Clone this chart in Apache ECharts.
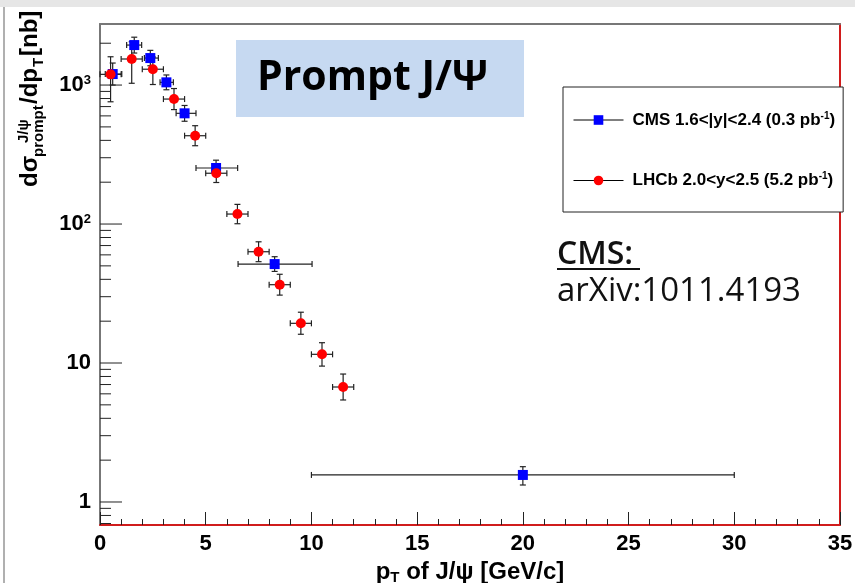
<!DOCTYPE html>
<html>
<head>
<meta charset="utf-8">
<title>Prompt J/psi cross-section</title>
<script src="https://cdn.jsdelivr.net/npm/echarts@6/dist/echarts.min.js"></script>
<style>
  html, body { margin: 0; padding: 0; background: #fff; }
  #chart { width: 855px; height: 583px; }
</style>
</head>
<body>
<div id="chart"></div>
<script>
// values (pT in GeV/c, cross-section in nb)
const cmsName = "CMS 1.6<|y|<2.4 (0.3 pb-1)";
const cmsPt = [0.6, 1.62, 2.38, 3.14, 4.0, 5.49, 8.26, 20.0];
const cmsPtLo = [0.25, 1.26, 2.1, 2.84, 3.6, 4.54, 6.53, 10.0];
const cmsPtHi = [1.03, 1.97, 2.76, 3.47, 4.54, 6.51, 10.03, 30.0];
const cmsVal = [1200, 1940, 1564, 1046, 626, 253, 51.5, 1.565];
const cmsLo = [1000, 1700, 1377, 925, 549, 222, 45.6, 1.325];
const cmsHi = [1440, 2210, 1777, 1182, 713, 288, 58.2, 1.795];

const lhcbName = "LHCb 2.0<y<2.5 (5.2 pb-1)";
const lhcbPt = [0.5, 1.5, 2.5, 3.5, 4.5, 5.5, 6.5, 7.5, 8.5, 9.5, 10.5, 11.5];
const lhcbPtLo = [0, 1, 2, 3, 4, 5, 6, 7, 8, 9, 10, 11];
const lhcbPtHi = [1, 2, 3, 4, 5, 6, 7, 8, 9, 10, 11, 12];
const lhcbVal = [1194, 1540, 1300, 793, 432, 232, 118, 63.2, 36.6, 19.3, 11.55, 6.72];
const lhcbLo = [758, 1030, 1009, 666, 366, 199, 100.5, 53.6, 30.8, 16.1, 9.5, 5.42];
const lhcbHi = [1598, 2050, 1591, 944, 510, 269, 138.5, 74.5, 43.5, 23.2, 14.0, 8.33];

// axes
const xMin = 0, xMax = 35, xStep = 5;
const yMin = 0.683, yMax = 2750;
const yMajorTicks = [1, 10, 100, 1000];
const yTickLabels = ["{b|1}", "{b|10}", "{b|10}{s|2}", "{b|10}{s|3}"];

const legendLabels = {
  [cmsName]: "{f|CMS 1.6<|y|<2.4 (0.3 pb}{s|-1}{t|)}",
  [lhcbName]: "{f|LHCb 2.0<y<2.5 (5.2 pb}{s|-1}{t|)}",
};

// minor ticks of the log axis: 2..9 in every decade
const yMinorTicks = [];
for (let d = 0.1; d < yMax; d *= 10) {
  for (let k = 2; k <= 9; k++) {
    const v = Math.round(d * k * 1000) / 1000;
    if (v > yMin && v < yMax) yMinorTicks.push(v);
  }
}

const FONT = '"Liberation Sans", Arial, sans-serif';
const TICK = "#222";
const FRAME_GREY = "#777";
const FRAME_RED = "#d01c1c";

const chart = echarts.init(document.getElementById("chart"), null, { renderer: "canvas" });

const toBars = (pt, lo, hi, val, vlo, vhi) =>
  pt.map((x, i) => [x, val[i], lo[i], hi[i], vlo[i], vhi[i]]);

function renderErrorBar(params, api) {
  const x = api.value(0);
  const y = api.value(1);
  const left = api.coord([api.value(2), y]);
  const right = api.coord([api.value(3), y]);
  const bottom = api.coord([x, api.value(4)]);
  const top = api.coord([x, api.value(5)]);
  const cap = 3;
  const style = { stroke: TICK, lineWidth: 1.2 };
  const seg = (x1, y1, x2, y2) => ({ type: "line", shape: { x1, y1, x2, y2 }, style });
  return {
    type: "group",
    children: [
      seg(left[0], left[1], right[0], right[1]),
      seg(left[0], left[1] - cap, left[0], left[1] + cap),
      seg(right[0], right[1] - cap, right[0], right[1] + cap),
      seg(top[0], top[1], bottom[0], bottom[1]),
      seg(top[0] - cap, top[1], top[0] + cap, top[1]),
      seg(bottom[0] - cap, bottom[1], bottom[0] + cap, bottom[1]),
    ],
  };
}

// ROOT style ticks on the left log axis, pointing inside
const yTickRenderer = (len) => (params, api) => {
  const p = api.coord([xMin, api.value(1)]);
  return {
    type: "line",
    shape: { x1: p[0], y1: p[1], x2: p[0] + len, y2: p[1] },
    style: { stroke: TICK, lineWidth: 1 },
  };
};

const option = {
  backgroundColor: "#fff",
  animation: false,
  grid: { left: 100, top: 24, right: 15, bottom: 58, outerBoundsMode: "none" },
  xAxis: [
    {
      type: "value",
      min: xMin,
      max: xMax,
      interval: xStep,
      position: "bottom",
      axisLine: { show: true, onZero: false, lineStyle: { color: FRAME_RED, width: 2 } },
      axisTick: { show: true, inside: true, length: 13, lineStyle: { color: TICK, width: 1 } },
      minorTick: { show: true, splitNumber: 5, length: 6, lineStyle: { color: TICK, width: 1 } },
      splitLine: { show: false },
      axisLabel: { color: "#000", fontFamily: FONT, fontSize: 22, fontWeight: "bold", margin: 8 },
      name: "{b|p}{sub|T}{b| of J/ψ [GeV/c]}",
      nameLocation: "middle",
      nameGap: 27,
      nameTextStyle: {
        rich: {
          b: { fontFamily: FONT, fontSize: 24, fontWeight: "bold", color: "#000" },
          sub: { fontFamily: FONT, fontSize: 15, fontWeight: "bold", color: "#000", padding: [12, 0, 0, 0] },
        },
      },
    },
    {
      type: "value",
      min: xMin,
      max: xMax,
      position: "top",
      axisLine: { show: true, onZero: false, lineStyle: { color: FRAME_GREY, width: 2 } },
      axisTick: { show: false },
      axisLabel: { show: false },
      splitLine: { show: false },
    },
  ],
  yAxis: [
    {
      type: "log",
      logBase: 10,
      min: yMin,
      max: yMax,
      position: "left",
      axisLine: { show: true, onZero: false, lineStyle: { color: FRAME_GREY, width: 2 } },
      axisTick: { show: false },
      splitLine: { show: false },
      axisLabel: {
        margin: 9,
        formatter: (v) => {
          const lg = Math.log10(v);
          const n = Math.round(lg);
          if (Math.abs(lg - n) > 1e-6) return "";
          const i = yMajorTicks.indexOf(Math.pow(10, n));
          return i < 0 ? "" : yTickLabels[i];
        },
        rich: {
          b: { fontFamily: FONT, fontSize: 22, fontWeight: "bold", color: "#000" },
          s: { fontFamily: FONT, fontSize: 13, fontWeight: "bold", color: "#000", padding: [0, 0, 9, 0] },
        },
      },
    },
    {
      type: "log",
      logBase: 10,
      min: yMin,
      max: yMax,
      position: "right",
      axisLine: { show: true, onZero: false, lineStyle: { color: FRAME_RED, width: 2 } },
      axisTick: { show: false },
      axisLabel: { show: false },
      splitLine: { show: false },
    },
  ],
  legend: {
    orient: "vertical",
    left: 563,
    top: 87,
    padding: [24, 8, 23, 10],
    itemGap: 43,
    itemWidth: 50,
    itemHeight: 12,
    backgroundColor: "#fff",
    borderColor: "#222",
    borderWidth: 1,
    selectedMode: false,
    lineStyle: { color: "#000", width: 1, opacity: 1 },
    data: [cmsName, lhcbName],
    formatter: (name) => legendLabels[name],
    textStyle: {
      rich: {
        f: { fontFamily: FONT, fontSize: 17, fontWeight: "bold", color: "#000", padding: [0, 0, 0, 4] },
        t: { fontFamily: FONT, fontSize: 17, fontWeight: "bold", color: "#000" },
        s: { fontFamily: FONT, fontSize: 10, fontWeight: "bold", color: "#000", padding: [0, 0, 8, 0] },
      },
    },
  },
  series: [
    {
      type: "custom",
      name: "yMajor",
      silent: true,
      renderItem: yTickRenderer(22),
      data: yMajorTicks.map((v) => [xMin, v]),
      z: 1,
    },
    {
      type: "custom",
      name: "yMinor",
      silent: true,
      renderItem: yTickRenderer(11),
      data: yMinorTicks.map((v) => [xMin, v]),
      z: 1,
    },
    {
      type: "custom",
      name: "cmsErr",
      silent: true,
      renderItem: renderErrorBar,
      encode: { x: 0, y: 1 },
      data: toBars(cmsPt, cmsPtLo, cmsPtHi, cmsVal, cmsLo, cmsHi),
      z: 2,
    },
    {
      type: "custom",
      name: "lhcbErr",
      silent: true,
      renderItem: renderErrorBar,
      encode: { x: 0, y: 1 },
      data: toBars(lhcbPt, lhcbPtLo, lhcbPtHi, lhcbVal, lhcbLo, lhcbHi),
      z: 2,
    },
    {
      name: cmsName,
      type: "line",
      silent: true,
      data: cmsPt.map((x, i) => [x, cmsVal[i]]),
      symbol: "rect",
      symbolSize: 10,
      showAllSymbol: true,
      itemStyle: { color: "#0000ff" },
      lineStyle: { opacity: 0 },
      z: 4,
    },
    {
      name: lhcbName,
      type: "line",
      silent: true,
      data: lhcbPt.map((x, i) => [x, lhcbVal[i]]),
      symbol: "circle",
      symbolSize: 10,
      showAllSymbol: true,
      itemStyle: { color: "#ff0000" },
      lineStyle: { opacity: 0 },
      z: 5,
    },
  ],
  graphic: [
    // slide chrome: grey strip on top and thin edge on the left
    { type: "rect", shape: { x: 0, y: 0, width: 855, height: 7 }, style: { fill: "#e6e6e6" }, silent: true },
    { type: "line", shape: { x1: 4, y1: 7, x2: 4, y2: 583 }, style: { stroke: "#b0b0b0", lineWidth: 2 }, silent: true },
    // "Prompt J/Ψ" box
    { type: "rect", shape: { x: 236, y: 40, width: 288, height: 77 }, style: { fill: "#c6d9f1" }, silent: true },
    {
      type: "text",
      x: 257,
      y: 78,
      style: { text: "Prompt J/Ψ", font: 'bold 41px "Open Sans", sans-serif', fill: "#000", verticalAlign: "middle" },
      silent: true,
    },
    // reference note
    {
      type: "text",
      x: 557,
      y: 255,
      style: { text: "CMS:", font: '600 32px "Open Sans", sans-serif', fill: "#111", verticalAlign: "middle" },
      silent: true,
    },
    { type: "line", shape: { x1: 557, y1: 269, x2: 640, y2: 269 }, style: { stroke: "#111", lineWidth: 2 }, silent: true },
    {
      type: "text",
      x: 557,
      y: 292,
      style: { text: "arXiv:1011.4193", font: '33px "Open Sans", sans-serif', fill: "#111", verticalAlign: "middle" },
      silent: true,
    },
    // y-axis title, reading bottom to top
    {
      type: "group",
      x: 38,
      y: 187,
      rotation: Math.PI / 2,
      silent: true,
      children: [
        { type: "text", x: 0, y: -8, style: { text: "dσ", font: "bold 24px " + FONT, fill: "#000", verticalAlign: "middle" } },
        { type: "text", x: 44, y: -14, style: { text: "J/ψ", font: "bold 15px " + FONT, fill: "#000", verticalAlign: "middle" } },
        { type: "text", x: 30, y: 1, style: { text: "prompt", font: "bold 15px " + FONT, fill: "#000", verticalAlign: "middle" } },
        { type: "text", x: 83, y: -8, style: { text: "/dp", font: "bold 24px " + FONT, fill: "#000", verticalAlign: "middle" } },
        { type: "text", x: 120, y: 1, style: { text: "T", font: "bold 15px " + FONT, fill: "#000", verticalAlign: "middle" } },
        { type: "text", x: 131, y: -8, style: { text: "[nb]", font: "bold 24px " + FONT, fill: "#000", verticalAlign: "middle" } },
      ],
    },
  ],
};

chart.setOption(option);
</script>
</body>
</html>
